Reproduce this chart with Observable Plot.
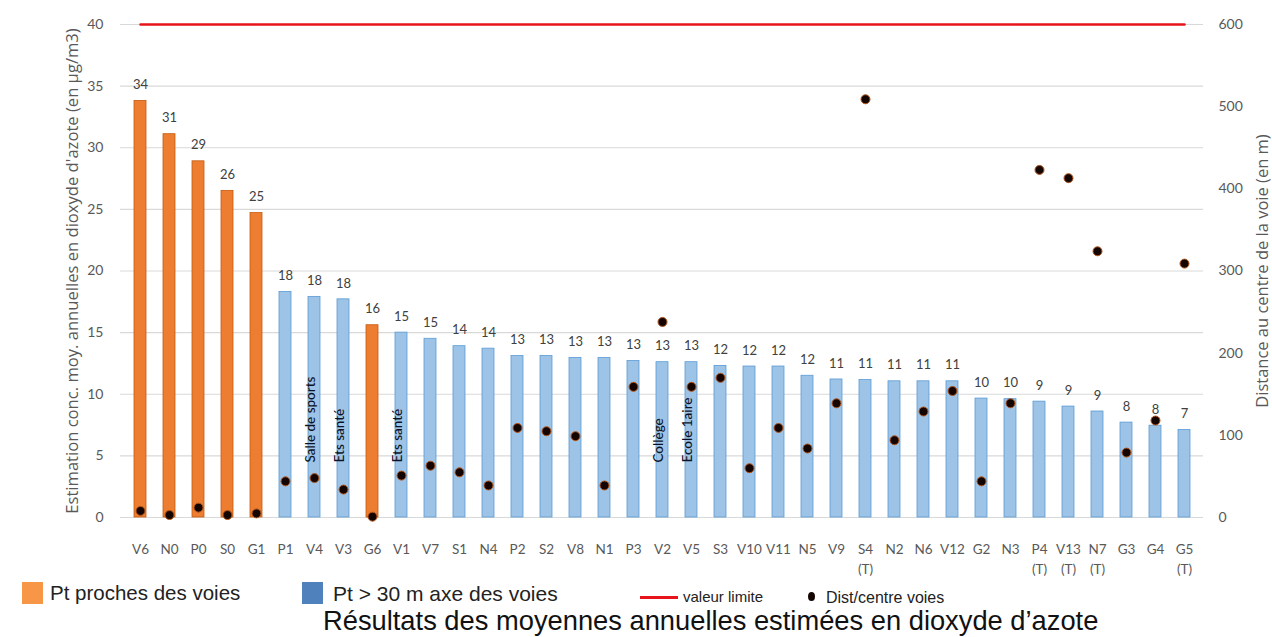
<!DOCTYPE html>
<html>
<head>
<meta charset="utf-8">
<script src="https://cdn.jsdelivr.net/npm/d3@7"></script>
<script src="https://cdn.jsdelivr.net/npm/@observablehq/plot@0.6"></script>
<style>
  body { margin: 0; background: #fff; }
  #wrap { position: relative; width: 1272px; height: 637px; overflow: hidden; font-family: "Liberation Sans Narrow", "Liberation Sans", sans-serif; }
  #wrap svg { position: absolute; left: 0; top: 0; }
  .lg { position: absolute; white-space: nowrap; color: #222; line-height: 1.2; }
  .sw { position: absolute; }
</style>
</head>
<body>
<div id="wrap"></div>
<script>
const categories = ["V6","N0","P0","S0","G1","P1","V4","V3","G6","V1","V7","S1","N4","P2","S2","V8","N1","P3","V2","V5","S3","V10","V11","N5","V9","S4 (T)","N2","N6","V12","G2","N3","P4 (T)","V13 (T)","N7 (T)","G3","G4","G5 (T)"];
const no2 = [33.8,31.1,28.9,26.5,24.7,18.3,17.9,17.7,15.6,15.0,14.5,13.9,13.7,13.1,13.1,12.95,12.95,12.7,12.6,12.6,12.3,12.25,12.25,11.5,11.2,11.15,11.05,11.05,11.05,9.65,9.6,9.4,9.0,8.6,7.7,7.45,7.1];
const no2Labels = ["34","31","29","26","25","18","18","18","16","15","15","14","14","13","13","13","13","13","13","13","12","12","12","12","11","11","11","11","11","10","10","9","9","9","8","8","7"];
const groups = ["proche","proche","proche","proche","proche","loin","loin","loin","proche","loin","loin","loin","loin","loin","loin","loin","loin","loin","loin","loin","loin","loin","loin","loin","loin","loin","loin","loin","loin","loin","loin","loin","loin","loin","loin","loin","loin"];
const distance = [8,3,12,3,5,44,48,34,1,51,63,55,39,109,105,99,39,159,238,159,170,60,109,84,139,509,94,129,154,44,139,423,413,324,79,118,309];
const limitValue = 40;
const annoCats = ["V4","V3","V1","V2","V5"];
const annoTexts = ["Salle de sports","Ets santé","Ets santé","Collège","Ecole 1aire"];
const leftTicks = [0,5,10,15,20,25,30,35,40];
const rightTicks = [0,100,200,300,400,500,600];
const ratio = 600 / 40;

const rows = categories.map((c, i) => ({cat: c, no2: no2[i], label: no2Labels[i], group: groups[i], dist: distance[i]}));
const annos = annoCats.map((c, i) => ({cat: c, text: annoTexts[i]}));

const tickFont = "Lato, 'Open Sans', sans-serif";

const chart = Plot.plot({
  width: 1272,
  height: 585,
  marginLeft: 120,
  marginRight: 69,
  marginTop: 24,
  marginBottom: 68,
  style: {fontFamily: tickFont, background: "transparent"},
  x: {domain: categories, paddingInner: 0.6, paddingOuter: 0.3, axis: null},
  y: {domain: [0, 40], axis: null},
  color: {domain: ["proche", "loin"], range: ["#ED7D31", "#9DC3E6"]},
  marks: [
    Plot.gridY(leftTicks, {stroke: "#d9d9d9", strokeOpacity: 1, strokeWidth: 1.2}),
    Plot.axisY(leftTicks, {anchor: "left", tickSize: 0, tickPadding: 17, fontSize: 14, fill: "#595959", label: null}),
    Plot.axisY(rightTicks.map(d => d / ratio), {anchor: "right", tickSize: 0, tickPadding: 15, fontSize: 14, fill: "#595959", label: null, tickFormat: d => String(Math.round(d * ratio))}),
    Plot.axisX(categories, {anchor: "bottom", tickSize: 0, tickPadding: 23, fontSize: 13.5, fill: "#595959", label: null, tickFormat: d => d.replace(" ", "\n"), lineHeight: 1.45}),
    Plot.barY(rows, {x: "cat", y: "no2", fill: "group", stroke: d => d.group === "proche" ? "#C55A11" : "#5B9BD5", strokeWidth: 0.8}),
    Plot.text(rows, {x: "cat", y: "no2", text: "label", dy: -16, fontSize: 13, fill: "#404040"}),
    Plot.text(annos, {x: "cat", text: "text", frameAnchor: "bottom", dy: -55, rotate: -90, textAnchor: "start", fontSize: 13.5, fill: "#0d1326", fontWeight: 500}),
    Plot.line(categories, {x: d => d, y: () => limitValue, stroke: "#E8141B", strokeWidth: 2.5}),
    Plot.dot(rows, {x: "cat", y: d => d.dist / ratio, r: 4.5, fill: "#150500", stroke: "#B4561B", strokeWidth: 1}),
    Plot.text(["Estimation conc. moy. annuelles en dioxyde d'azote (en µg/m3)"], {frameAnchor: "left", dx: -48, rotate: -90, textAnchor: "middle", fontSize: 16.6, fontFamily: "'Open Sans', sans-serif", fill: "#595959", text: d => d}),
    Plot.text(["Distance au centre de la voie (en m)"], {frameAnchor: "right", dx: 59, rotate: -90, textAnchor: "middle", fontSize: 16.5, fontFamily: "'Open Sans', sans-serif", fill: "#595959", text: d => d})
  ]
});

const wrap = document.getElementById("wrap");
wrap.appendChild(chart);

function add(html) { const d = document.createElement("div"); d.innerHTML = html; wrap.appendChild(d.firstElementChild); }
add('<div class="sw" style="left:22px;top:582px;width:21px;height:22px;background:#F79646"></div>');
add('<div class="lg" style="left:50px;top:581px;font-size:20.5px;">Pt proches des voies</div>');
add('<div class="sw" style="left:302px;top:582px;width:21px;height:22px;background:#4F81BD"></div>');
add('<div class="lg" style="left:333px;top:581px;font-size:21px;">Pt &gt; 30 m axe des voies</div>');
add('<div class="sw" style="left:640px;top:596px;width:38px;height:3px;background:#E8141B"></div>');
add('<div class="lg" style="left:683px;top:588px;font-size:15px;">valeur limite</div>');
add('<div class="sw" style="left:808px;top:592px;width:7px;height:9px;border-radius:50%;background:#150500"></div>');
add('<div class="lg" style="left:826px;top:588px;font-size:16px;">Dist/centre voies</div>');
add('<div class="lg" style="left:323px;top:605px;font-size:27.3px;color:#111;">Résultats des moyennes annuelles estimées en dioxyde d’azote</div>');
</script>
</body>
</html>
